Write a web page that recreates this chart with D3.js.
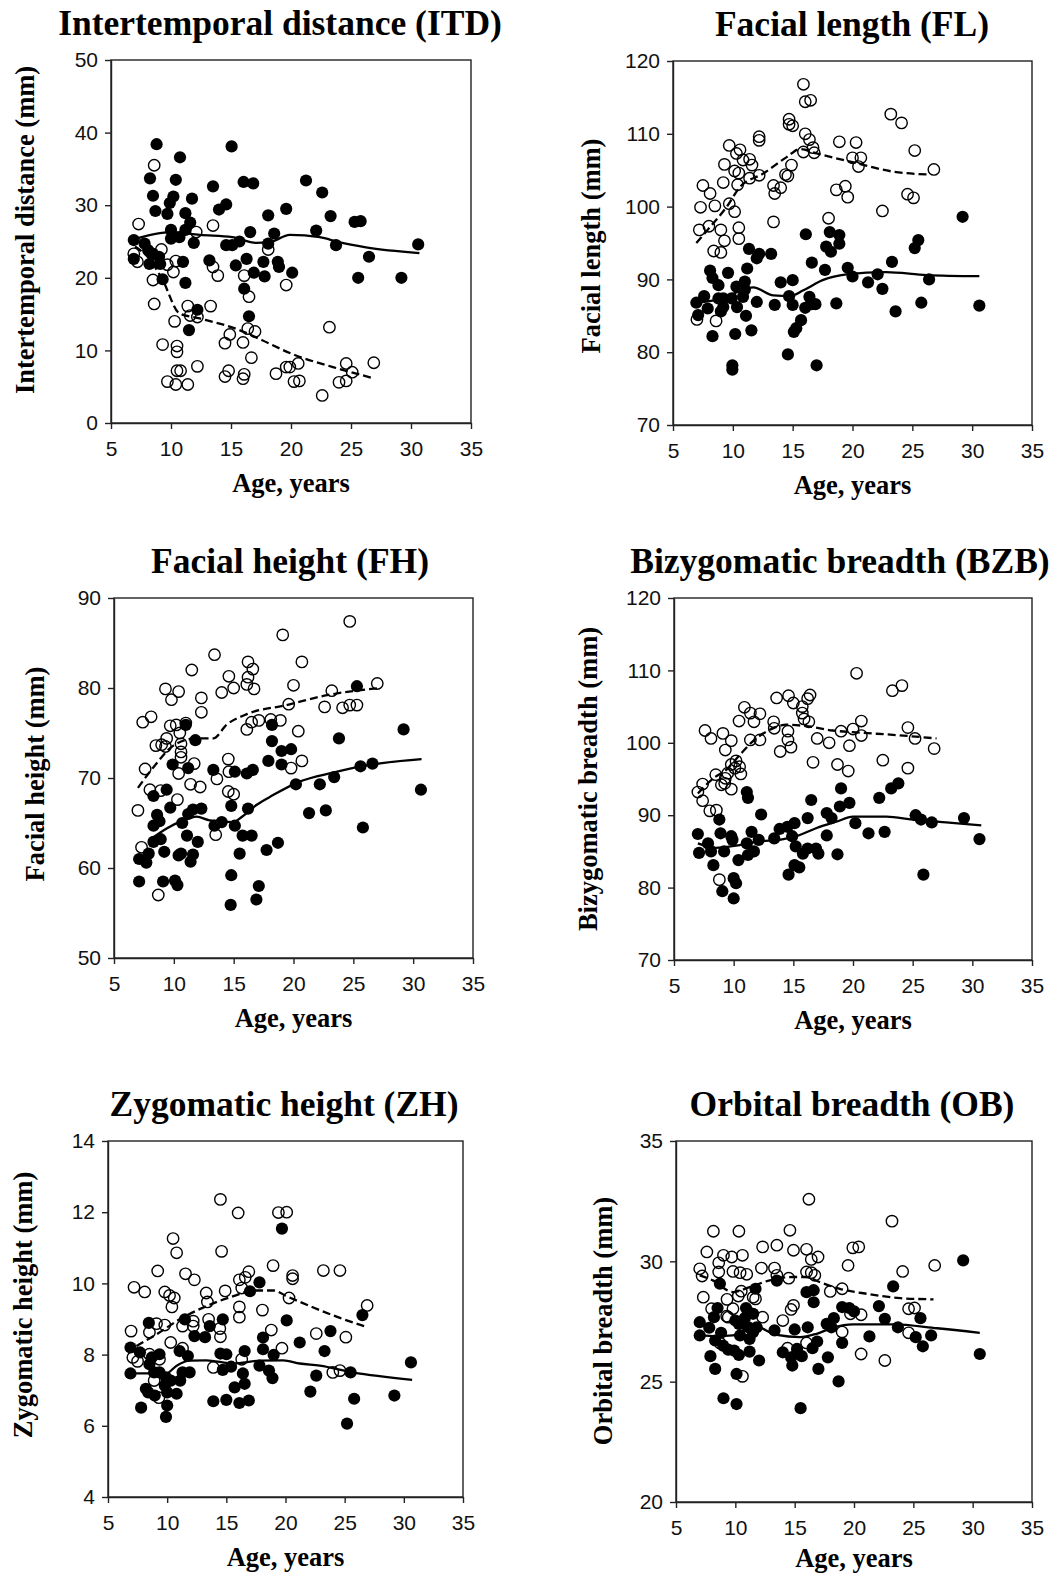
<!DOCTYPE html>
<html>
<head>
<meta charset="utf-8">
<script src="https://cdn.jsdelivr.net/npm/d3@7"></script>
<style>
  body { margin: 0; background: #fff; }
  svg { display: block; }
  .tick text { font-family: "Liberation Sans", Arial, sans-serif; font-size: 21px; fill: #111; }
  .tick line, .domain { stroke: #222; stroke-width: 1.4px; }
  .ttl, .lab { font-family: "Liberation Serif", "Times New Roman", serif; font-weight: bold; fill: #000; }
</style>
</head>
<body>
<div id="chart"></div>
<script>
// age ticks shared by all panels
const ageTicks = [5, 10, 15, 20, 25, 30, 35];

const titles = ["Intertemporal distance (ITD)", "Facial length (FL)", "Facial height (FH)",
                "Bizygomatic breadth (BZB)", "Zygomatic height (ZH)", "Orbital breadth (OB)"];
const yLabels = ["Intertemporal distance (mm)", "Facial length (mm)", "Facial height (mm)",
                 "Bizygomatic breadth (mm)", "Zygomatic height (mm)", "Orbital breadth (mm)"];
const yDomains = [[0, 50], [70, 120], [50, 90], [70, 120], [4, 14], [20, 35]];
const yTicks = [[0, 10, 20, 30, 40, 50], [70, 80, 90, 100, 110, 120], [50, 60, 70, 80, 90],
                [70, 80, 90, 100, 110, 120], [4, 6, 8, 10, 12, 14], [20, 25, 30, 35]];

// ---- ITD ----
const itdFilled = [[8.8,38.4],[10.75,36.6],[8.25,33.7],[10.4,33.5],[8.5,31.3],[10.2,31.2],[9.9,30.3],[11.75,30.9],[13.5,32.6],[14.0,29.4],[14.6,30.1],[15.05,38.1],[16.05,33.2],[16.85,33.0],[8.7,29.2],[9.7,28.8],[11.2,28.9],[11.6,27.6],[10.0,26.6],[11.2,26.6],[10.7,25.6],[10.0,25.4],[11.9,24.8],[6.9,25.2],[7.8,24.7],[8.1,23.8],[8.5,23.3],[9.0,22.9],[6.9,22.6],[8.2,21.9],[9.1,21.9],[9.3,19.8],[11.0,22.2],[11.2,19.3],[13.2,22.4],[14.6,24.5],[15.1,24.5],[15.7,25.0],[16.6,26.3],[15.4,21.7],[16.3,22.6],[16.9,20.7],[17.7,22.2],[17.8,20.2],[18.1,28.6],[18.6,26.1],[18.1,24.7],[18.9,22.2],[19.0,21.5],[19.6,29.5],[20.1,20.7],[16.1,18.5],[16.5,14.7],[12.2,15.6],[11.5,12.8],[21.25,33.4],[22.6,31.75],[22.1,26.5],[23.3,28.5],[23.75,24.5],[25.3,27.7],[25.8,27.8],[26.5,22.9],[25.6,20.0],[29.2,20.0],[30.6,24.6]];
const itdOpen = [[8.6,35.5],[7.3,27.4],[13.5,27.2],[12.1,26.3],[9.2,23.9],[6.9,23.3],[7.2,22.2],[10.4,22.3],[10.2,20.8],[9.7,21.8],[8.5,19.7],[8.6,16.4],[13.5,21.5],[13.9,20.3],[11.4,16.1],[11.6,14.8],[12.2,14.6],[13.3,16.1],[10.3,14.0],[18.1,23.9],[16.1,20.3],[16.5,17.4],[19.6,19.0],[14.9,12.2],[14.5,11.0],[16.0,11.1],[16.4,13.0],[17.0,12.6],[16.7,9.0],[9.3,10.8],[10.5,10.6],[10.5,9.8],[12.2,7.8],[10.5,7.2],[10.8,7.2],[14.8,7.2],[14.5,6.4],[16.1,6.7],[16.0,6.1],[9.7,5.7],[10.4,5.3],[11.4,5.3],[18.75,6.8],[19.6,7.7],[19.9,7.7],[20.6,8.2],[20.25,5.7],[20.7,5.8],[23.2,13.2],[22.6,3.8],[24.6,8.2],[25.1,7.0],[24.0,5.6],[24.6,5.8],[26.9,8.3]];
const itdSolid = [[6.9,25.3],[10,26.3],[12.4,25.9],[15.1,25.6],[17.1,24.8],[18.2,24.9],[19.9,25.9],[22.4,25.6],[24.0,24.9],[26.25,24.2],[30.7,23.4]];
const itdDashed = [[7.0,24.3],[8.2,22.6],[9.3,19.7],[10.7,15.1],[12.4,14.4],[15.7,12.8],[17.6,11.4],[20.1,9.5],[23.5,7.7],[26.8,6.2]];

// ---- FL ----
const flFilled = [[29.2,98.6],[16.1,96.2],[18.1,96.5],[18.9,96.1],[18.9,94.9],[17.8,94.5],[18.2,93.8],[11.35,94.2],[12.2,93.5],[13.2,93.5],[12.0,92.9],[11.2,91.5],[16.6,92.3],[17.7,91.3],[19.6,91.6],[20.0,90.4],[21.3,89.6],[22.1,90.7],[22.5,88.7],[23.3,92.4],[25.5,95.4],[25.2,94.3],[26.4,90.0],[25.75,86.8],[23.6,85.6],[30.6,86.4],[8.1,91.2],[8.3,90.2],[8.8,89.2],[9.6,90.9],[10.3,89.0],[11.0,89.7],[11.0,88.6],[10.85,87.6],[9.9,87.4],[9.2,87.4],[8.8,87.4],[7.6,87.7],[6.95,86.8],[7.9,86.0],[9.0,85.6],[9.2,86.2],[10.35,86.2],[12.0,86.9],[11.1,85.0],[7.1,85.1],[8.3,82.2],[10.2,82.5],[11.55,83.0],[14.0,89.6],[15.0,89.9],[14.7,87.7],[15.0,86.5],[13.5,86.5],[16.4,87.6],[16.6,86.6],[16.05,86.1],[16.9,86.6],[18.65,86.7],[15.7,84.4],[15.3,83.3],[15.1,82.8],[14.6,79.7],[17.0,78.2],[9.96,78.2],[9.96,77.6]];
const flOpen = [[15.9,116.8],[16.05,114.4],[16.5,114.6],[23.2,112.7],[24.1,111.5],[14.7,112.0],[14.7,111.3],[15.0,111.1],[12.2,109.6],[12.2,109.1],[16.05,110.0],[16.4,109.2],[18.9,108.9],[20.3,108.8],[25.2,107.7],[16.7,108.1],[15.9,107.5],[16.8,107.4],[9.7,108.4],[10.6,107.8],[10.3,107.3],[10.85,106.4],[11.4,106.5],[11.6,105.7],[9.3,105.8],[10.15,104.9],[10.5,104.6],[11.4,103.9],[12.2,104.3],[14.9,105.7],[14.4,104.4],[14.6,104.2],[20.0,106.7],[20.7,106.7],[20.5,105.5],[26.8,105.1],[7.5,102.9],[8.1,101.8],[9.2,103.3],[10.4,103.0],[13.4,102.9],[13.5,101.8],[14.0,102.6],[18.65,102.3],[19.4,102.8],[19.6,101.3],[24.6,101.7],[25.1,101.2],[7.3,99.9],[8.5,100.1],[9.7,100.4],[10.15,99.3],[22.5,99.4],[7.2,96.8],[8.0,97.3],[9.0,96.8],[9.3,95.3],[10.5,97.1],[10.5,95.6],[8.4,93.9],[9.0,93.7],[13.4,97.9],[18.0,98.4],[7.0,84.5],[8.6,84.3]];
const flSolid = [[6.95,86.8],[8.6,87.2],[10.3,88.2],[11.7,88.9],[13.4,87.8],[14.75,87.7],[15.9,88.5],[17.5,89.9],[19.5,90.7],[22.8,91.0],[26.2,90.6],[30.6,90.45]];
const flDashed = [[6.95,95.0],[8.1,97.2],[9.5,100.0],[10.6,102.7],[12.5,104.5],[14.5,106.8],[15.6,107.9],[17.0,107.3],[20.0,106.1],[23.4,104.8],[26.45,104.4]];

// ---- FH ----
const fhFilled = [[25.3,80.2],[29.2,75.4],[23.8,74.4],[18.2,75.9],[18.2,74.1],[19.0,73.0],[19.8,73.2],[17.9,71.9],[19.0,71.5],[11.0,75.9],[11.8,74.2],[9.9,71.5],[11.2,71.1],[13.3,70.9],[15.1,70.7],[16.1,70.5],[16.6,70.9],[20.2,69.3],[22.2,69.3],[23.4,70.1],[25.6,71.3],[26.6,71.6],[30.65,68.7],[21.3,66.1],[22.7,66.4],[25.8,64.5],[8.3,68.0],[9.4,68.7],[9.7,66.7],[8.6,65.9],[8.8,65.2],[8.3,64.7],[10.7,65.0],[11.2,66.0],[11.6,66.5],[12.3,66.6],[11.1,63.6],[12.0,62.9],[8.9,63.2],[8.3,62.9],[9.2,61.8],[10.4,61.4],[10.6,61.6],[11.6,61.5],[11.4,60.7],[7.9,61.6],[7.1,61.0],[7.7,60.6],[7.1,58.5],[9.1,58.5],[10.1,58.6],[10.3,58.1],[13.4,64.7],[14.0,65.1],[14.8,66.9],[15.1,64.7],[15.75,63.6],[16.5,63.6],[16.2,66.6],[15.5,61.6],[17.75,62.0],[18.7,62.8],[14.8,59.2],[17.1,58.0],[16.9,56.5],[14.75,55.9]];
const fhOpen = [[24.7,87.4],[19.1,85.9],[13.4,83.7],[16.2,82.9],[16.6,82.1],[11.5,82.0],[20.7,82.9],[16.2,81.2],[16.1,80.4],[16.7,79.9],[14.6,81.3],[15.0,80.0],[14.0,79.5],[12.3,78.9],[12.3,77.3],[9.3,79.9],[10.4,79.6],[9.8,78.7],[20.0,80.3],[23.2,79.7],[27.0,80.5],[7.4,76.2],[8.1,76.8],[9.7,75.8],[10.2,75.9],[10.5,75.0],[10.6,73.8],[10.6,72.9],[10.6,72.3],[9.4,74.4],[9.3,73.5],[8.5,73.6],[8.98,73.7],[11.0,76.1],[11.7,71.6],[10.4,70.5],[7.6,71.0],[8.0,68.7],[8.9,68.6],[11.4,69.3],[12.2,69.0],[10.3,67.6],[7.0,66.4],[7.3,62.3],[8.7,57.0],[13.5,63.7],[13.6,69.9],[14.55,72.1],[14.6,70.7],[14.55,68.5],[15.0,68.2],[16.1,75.4],[16.5,76.2],[17.1,76.4],[18.1,76.5],[18.9,76.4],[19.6,78.2],[20.4,75.2],[19.8,71.1],[20.7,71.9],[22.6,77.9],[24.1,77.8],[24.7,78.1],[25.3,78.1]];
const fhSolid = [[7.95,63.1],[9.4,64.4],[10.8,65.3],[11.9,65.7],[13.0,65.3],[15.0,65.1],[15.7,65.7],[16.9,67.0],[18.3,68.1],[20.5,69.6],[23.3,70.6],[26.1,71.4],[30.7,72.1]];
const fhDashed = [[7.0,68.9],[8.3,71.2],[9.96,73.6],[11.8,74.4],[13.3,74.4],[14.4,75.9],[16.1,77.1],[19.4,78.1],[22.8,79.2],[27.2,80.0]];

// ---- BZB ----
const bzbFilled = [[7.0,87.4],[7.1,84.8],[7.85,86.1],[8.1,85.0],[8.3,83.1],[8.8,89.4],[8.9,87.5],[9.2,85.0],[9.8,87.1],[9.9,86.6],[10.0,81.3],[10.2,80.6],[10.0,78.5],[9.05,79.5],[10.4,83.8],[11.1,93.2],[11.2,92.4],[11.5,87.7],[11.1,86.1],[11.7,85.0],[11.2,84.5],[12.1,86.6],[12.3,90.1],[13.4,86.8],[13.85,88.1],[14.5,88.4],[15.1,88.9],[14.9,87.1],[15.2,85.7],[15.8,84.7],[16.2,85.4],[16.9,85.4],[17.1,84.7],[15.1,83.1],[15.5,82.8],[14.6,81.8],[16.2,89.6],[16.5,92.1],[17.8,90.3],[18.2,89.6],[17.8,87.2],[18.7,84.6],[19.0,93.7],[18.9,91.2],[19.7,91.7],[20.2,88.9],[21.3,87.5],[22.2,92.4],[22.65,87.7],[23.2,93.7],[23.8,94.4],[25.25,90.0],[25.7,89.4],[26.6,89.0],[29.3,89.6],[30.6,86.7],[25.9,81.8]];
const bzbOpen = [[20.3,109.6],[23.3,107.2],[24.1,107.9],[13.6,106.2],[14.6,106.5],[15.0,105.5],[16.2,106.1],[16.4,106.6],[15.75,105.0],[15.75,104.1],[15.9,103.3],[16.3,102.9],[10.9,104.9],[11.4,104.1],[12.2,104.0],[11.7,102.9],[10.45,103.0],[13.35,102.9],[13.4,102.0],[14.55,101.6],[14.55,100.4],[14.8,99.4],[13.9,98.8],[11.4,100.4],[12.2,100.4],[7.6,101.7],[8.1,100.6],[9.1,101.3],[9.8,100.3],[9.3,99.0],[17.0,100.6],[18.0,100.0],[19.0,101.6],[20.0,101.9],[20.7,103.0],[20.7,101.0],[19.7,99.6],[24.6,102.1],[25.2,100.6],[26.8,99.2],[16.65,97.3],[18.7,97.0],[19.6,96.1],[22.5,97.6],[24.6,96.5],[10.2,97.5],[10.5,96.7],[10.6,95.7],[10.1,96.5],[9.8,97.0],[9.5,95.8],[8.5,95.6],[9.3,95.1],[8.97,94.2],[9.25,94.4],[9.8,93.6],[7.4,94.3],[7.0,93.2],[7.4,92.0],[8.0,90.6],[8.55,90.7],[8.8,81.1]];
const bzbSolid = [[7.0,86.1],[8.5,85.5],[10.2,85.8],[12.2,86.4],[13.85,86.6],[15.25,87.1],[16.9,88.2],[18.6,89.1],[20.0,89.8],[22.8,89.8],[25.0,89.4],[27.8,89.0],[30.75,88.6]];
const bzbDashed = [[7.0,93.0],[8.3,95.1],[9.4,96.3],[10.5,98.3],[11.6,100.2],[13.3,102.0],[14.4,102.5],[16.1,102.3],[18.3,101.7],[20.6,101.4],[23.35,101.1],[27.0,100.6]];

// ---- ZH ----
const zhFilled = [[19.7,11.54],[17.8,10.03],[17.0,9.78],[20.1,8.96],[8.45,8.89],[11.5,8.99],[14.7,8.99],[13.6,8.8],[12.3,8.52],[13.2,8.49],[18.1,8.48],[18.1,8.15],[19.0,7.99],[16.55,8.1],[14.5,8.03],[15.0,8.01],[21.2,8.34],[23.8,8.66],[23.3,8.1],[26.5,9.11],[6.9,8.2],[7.7,8.06],[6.9,7.47],[8.7,7.92],[9.35,8.01],[8.5,7.73],[11.05,8.1],[11.75,7.96],[11.9,7.5],[11.3,7.5],[11.1,7.27],[9.9,7.36],[10.3,7.27],[9.8,7.13],[9.35,7.5],[8.9,7.5],[8.2,7.04],[8.4,6.94],[8.95,6.85],[10.0,6.94],[10.8,6.9],[10.0,6.57],[7.8,6.51],[9.9,6.25],[14.7,7.57],[15.4,7.66],[16.4,7.47],[16.55,7.18],[15.7,7.08],[17.8,7.69],[18.6,7.55],[18.9,7.34],[13.9,6.69],[15.0,6.73],[16.1,6.64],[16.9,6.71],[22.6,7.41],[22.1,6.96],[25.5,7.5],[25.8,6.76],[25.2,6.06],[29.2,6.85],[30.6,7.78]];
const zhOpen = [[14.5,12.36],[16.0,11.98],[19.4,11.99],[20.1,12.0],[10.5,11.26],[10.8,10.86],[14.6,10.9],[9.2,10.35],[11.55,10.27],[12.3,10.1],[18.95,10.5],[20.6,10.22],[20.6,10.13],[23.2,10.36],[24.6,10.36],[7.2,9.89],[8.1,9.76],[9.8,9.76],[10.2,9.66],[10.6,9.59],[10.4,9.34],[13.3,9.73],[13.4,9.48],[14.9,9.79],[16.1,10.1],[16.6,10.17],[16.9,10.33],[16.3,9.87],[16.1,9.34],[16.1,9.05],[18.05,9.25],[20.3,9.59],[26.9,9.38],[9.1,8.87],[9.8,8.83],[11.3,8.8],[12.2,8.94],[12.2,8.8],[13.5,8.99],[14.45,8.73],[14.5,8.5],[8.5,8.63],[6.95,8.66],[18.8,8.69],[22.6,8.59],[25.1,8.49],[19.7,8.18],[10.3,8.34],[11.3,8.18],[7.1,7.92],[7.5,7.81],[8.5,8.01],[9.35,7.87],[13.9,7.64],[16.3,7.87],[24.0,7.5],[24.6,7.55],[8.9,7.27],[9.3,6.79]];
const zhSolid = [[6.95,7.47],[8.5,7.47],[9.9,7.47],[10.8,7.69],[11.9,7.83],[13.3,7.84],[15.6,7.75],[17.8,7.83],[19.8,7.84],[21.2,7.75],[22.9,7.69],[25.7,7.5],[30.7,7.29]];
const zhDashed = [[7.4,8.24],[9.1,8.57],[11.05,8.99],[13.3,9.36],[15.6,9.64],[17.3,9.8],[19.0,9.8],[20.1,9.64],[22.3,9.33],[24.6,9.03],[26.9,8.77]];

// ---- OB ----
const obFilled = [[29.2,30.04],[23.3,28.96],[13.5,29.2],[11.7,28.86],[8.7,29.07],[16.0,28.72],[16.6,28.8],[16.6,28.3],[8.5,28.06],[8.2,27.68],[10.9,28.06],[11.2,27.86],[11.5,27.82],[10.8,27.64],[10.0,27.54],[10.3,27.4],[11.1,27.26],[11.8,27.26],[11.5,27.06],[10.4,26.92],[11.2,26.78],[7.0,27.47],[7.8,27.24],[7.0,26.92],[8.8,27.03],[8.3,26.71],[8.97,26.5],[9.4,26.33],[9.9,26.29],[10.3,26.11],[11.2,26.25],[7.9,26.06],[8.3,25.53],[10.1,25.32],[12.0,25.88],[13.3,27.13],[15.0,27.17],[16.1,27.26],[14.0,26.22],[15.2,26.36],[15.6,26.06],[14.7,26.01],[14.8,25.67],[16.9,26.67],[16.5,26.39],[17.0,25.53],[17.8,26.01],[18.3,27.64],[17.7,27.4],[18.1,27.26],[19.0,28.1],[19.6,28.06],[20.0,27.92],[19.0,26.61],[18.7,25.01],[21.3,26.88],[22.1,28.14],[22.6,27.61],[23.7,27.26],[25.2,26.85],[25.6,27.64],[25.8,26.47],[26.5,26.92],[30.6,26.15],[9.0,24.31],[10.1,24.07],[15.5,23.9]];
const obOpen = [[16.2,32.58],[23.2,31.67],[8.15,31.25],[10.3,31.25],[14.6,31.29],[7.6,30.39],[9.0,30.25],[9.7,30.18],[10.6,30.25],[12.3,30.6],[13.5,30.67],[14.9,30.46],[16.0,30.5],[16.4,30.08],[16.97,30.18],[7.0,29.69],[7.2,29.39],[8.6,29.94],[8.6,29.56],[9.8,29.58],[10.4,29.53],[10.96,29.46],[12.2,29.72],[13.3,29.72],[13.5,29.42],[14.5,29.3],[16.0,29.56],[16.4,29.53],[16.7,29.42],[19.5,29.83],[19.9,30.56],[20.4,30.6],[24.1,29.58],[26.8,29.83],[18.0,28.75],[19.0,28.86],[7.3,28.51],[9.3,28.42],[10.25,28.56],[10.5,28.76],[11.5,28.51],[11.7,28.44],[8.0,28.03],[9.8,28.03],[9.4,27.68],[9.27,27.72],[12.3,27.68],[14.0,27.54],[14.7,28.0],[14.9,28.17],[19.7,27.82],[20.6,27.78],[24.6,28.03],[25.1,28.06],[19.0,27.06],[24.6,27.03],[8.7,26.61],[14.4,26.39],[16.0,26.61],[20.6,26.15],[22.6,25.88],[10.6,25.22]];
const obSolid = [[7.0,26.92],[8.4,26.89],[9.8,26.92],[11.5,27.33],[13.5,26.94],[15.45,26.85],[16.85,26.99],[18.3,27.26],[19.9,27.38],[23.3,27.38],[27.0,27.22],[30.6,27.03]];
const obDashed = [[7.0,29.42],[8.1,29.21],[9.8,28.72],[11.2,28.93],[12.9,29.21],[14.9,29.35],[16.0,29.35],[17.1,29.14],[18.8,28.86],[21.1,28.65],[23.9,28.47],[26.7,28.42]];

// panel geometry: plot box in page pixels, title centre, y-label centre
const panels = [
  { x0: 111, x1: 471, y0: 60, y1: 423, tx: 280, lx: 25, ly: 230, filled: itdFilled, open: itdOpen, solid: itdSolid, dashed: itdDashed },
  { x0: 673, x1: 1032, y0: 61, y1: 425, tx: 852, lx: 591, ly: 246, filled: flFilled, open: flOpen, solid: flSolid, dashed: flDashed },
  { x0: 114, x1: 473, y0: 598, y1: 958, tx: 290, lx: 35, ly: 774, filled: fhFilled, open: fhOpen, solid: fhSolid, dashed: fhDashed },
  { x0: 674, x1: 1032, y0: 598, y1: 960, tx: 840, lx: 588, ly: 779, filled: bzbFilled, open: bzbOpen, solid: bzbSolid, dashed: bzbDashed },
  { x0: 108, x1: 463, y0: 1141, y1: 1497, tx: 284, lx: 23, ly: 1305, filled: zhFilled, open: zhOpen, solid: zhSolid, dashed: zhDashed },
  { x0: 676, x1: 1032, y0: 1141, y1: 1502, tx: 852, lx: 603, ly: 1321, filled: obFilled, open: obOpen, solid: obSolid, dashed: obDashed }
];

const svg = d3.select("#chart").append("svg")
    .attr("width", 1052)
    .attr("height", 1575);

panels.forEach(function(p, i) {
    const x = d3.scaleLinear().domain([5, 35]).range([p.x0, p.x1]);
    const y = d3.scaleLinear().domain(yDomains[i]).range([p.y1, p.y0]);
    const g = svg.append("g");

    // frame (top and right sides)
    g.append("rect")
        .attr("x", p.x0).attr("y", p.y0)
        .attr("width", p.x1 - p.x0).attr("height", p.y1 - p.y0)
        .attr("fill", "none").attr("stroke", "#222").attr("stroke-width", 1.4);

    g.append("g")
        .attr("transform", "translate(0," + p.y1 + ")")
        .call(d3.axisBottom(x).tickValues(ageTicks).tickSize(6).tickSizeOuter(0).tickPadding(12));
    g.append("g")
        .attr("transform", "translate(" + p.x0 + ",0)")
        .call(d3.axisLeft(y).tickValues(yTicks[i]).tickSize(6).tickSizeOuter(0).tickPadding(7));

    // open circles
    g.selectAll(".op").data(p.open).enter().append("circle")
        .attr("cx", d => x(d[0])).attr("cy", d => y(d[1])).attr("r", 5.7)
        .attr("fill", "none").attr("stroke", "#000").attr("stroke-width", 1.4);
    // filled circles
    g.selectAll(".fp").data(p.filled).enter().append("circle")
        .attr("cx", d => x(d[0])).attr("cy", d => y(d[1])).attr("r", 6.1)
        .attr("fill", "#000");

    const line = d3.line().curve(d3.curveMonotoneX).x(d => x(d[0])).y(d => y(d[1]));
    g.append("path").attr("d", line(p.solid))
        .attr("fill", "none").attr("stroke", "#000").attr("stroke-width", 2.3);
    g.append("path").attr("d", line(p.dashed))
        .attr("fill", "none").attr("stroke", "#000").attr("stroke-width", 2.3)
        .attr("stroke-dasharray", "8,4");

    // texts
    g.append("text").attr("class", "ttl")
        .attr("x", p.tx).attr("y", p.y0 - 25)
        .attr("text-anchor", "middle").style("font-size", "35.5px")
        .text(titles[i]);
    g.append("text").attr("class", "lab")
        .attr("x", (p.x0 + p.x1) / 2).attr("y", Math.min(p.y1 + 69, 1567))
        .attr("text-anchor", "middle").style("font-size", "26.5px")
        .text("Age, years");
    g.append("text").attr("class", "lab")
        .attr("transform", "translate(" + p.lx + "," + p.ly + ") rotate(-90)")
        .attr("text-anchor", "middle").attr("dy", "0.35em").style("font-size", "26.5px")
        .text(yLabels[i]);
});
</script>
</body>
</html>
